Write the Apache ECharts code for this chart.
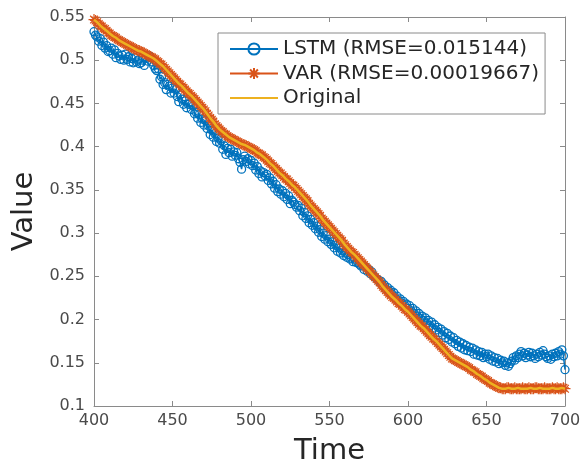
<!DOCTYPE html>
<html>
<head>
<meta charset="utf-8">
<script src="https://cdn.jsdelivr.net/npm/echarts@6/dist/echarts.min.js"></script>
<style>
html,body{margin:0;padding:0;background:#fff;}
#chart{width:586px;height:471px;}
</style>
</head>
<body>
<div id="chart"></div>
<script>
// LSTM and VAR are sampled every time unit from 400 to 700; Original every 2 units
const timeStart = 400;
const denseStep = 1;
const originalStep = 2;

const lstmValues = [
  0.533,0.529,0.527,0.522,0.525,0.517,0.521,0.514,0.517,0.510,
  0.511,0.514,0.507,0.512,0.503,0.508,0.505,0.501,0.506,0.500,
  0.507,0.501,0.504,0.498,0.502,0.497,0.503,0.498,0.500,0.496,
  0.497,0.500,0.494,0.502,0.499,0.505,0.503,0.498,0.494,0.490,
  0.488,0.490,0.478,0.481,0.472,0.474,0.466,0.472,0.470,0.462,
  0.468,0.462,0.466,0.458,0.452,0.460,0.455,0.449,0.453,0.445,
  0.449,0.451,0.443,0.447,0.438,0.440,0.433,0.437,0.428,0.432,
  0.425,0.430,0.421,0.424,0.414,0.419,0.411,0.415,0.406,0.410,
  0.404,0.407,0.397,0.401,0.391,0.398,0.393,0.397,0.389,0.394,
  0.390,0.393,0.386,0.382,0.374,0.385,0.389,0.383,0.386,0.380,
  0.384,0.378,0.381,0.373,0.377,0.369,0.372,0.365,0.370,0.366,
  0.368,0.361,0.364,0.357,0.360,0.352,0.356,0.348,0.351,0.345,
  0.349,0.342,0.346,0.339,0.343,0.334,0.338,0.336,0.333,0.330,
  0.332,0.326,0.329,0.320,0.324,0.317,0.320,0.312,0.316,0.309,
  0.312,0.305,0.308,0.301,0.304,0.296,0.300,0.293,0.297,0.290,
  0.293,0.287,0.290,0.283,0.286,0.279,0.283,0.277,0.280,0.274,
  0.277,0.272,0.275,0.270,0.271,0.267,0.270,0.266,0.266,0.264,
  0.262,0.263,0.258,0.261,0.256,0.258,0.253,0.255,0.250,0.249,
  0.247,0.246,0.243,0.244,0.239,0.240,0.235,0.237,0.233,0.234,
  0.229,0.231,0.225,0.227,0.222,0.224,0.219,0.221,0.216,0.218,
  0.213,0.216,0.210,0.213,0.207,0.210,0.204,0.207,0.201,0.204,
  0.199,0.202,0.196,0.199,0.193,0.197,0.190,0.194,0.188,0.191,
  0.185,0.189,0.182,0.186,0.179,0.184,0.177,0.181,0.174,0.179,
  0.172,0.176,0.169,0.174,0.167,0.172,0.165,0.170,0.164,0.168,
  0.163,0.167,0.160,0.165,0.159,0.163,0.158,0.162,0.156,0.160,
  0.157,0.160,0.154,0.158,0.152,0.156,0.151,0.155,0.149,0.153,
  0.150,0.152,0.147,0.150,0.146,0.149,0.152,0.156,0.153,0.158,
  0.156,0.160,0.163,0.158,0.161,0.156,0.159,0.162,0.157,0.161,
  0.158,0.155,0.160,0.157,0.162,0.159,0.164,0.160,0.157,0.155,
  0.158,0.154,0.160,0.157,0.161,0.158,0.163,0.160,0.165,0.158,
  0.142
];

const varValues = [
  0.547,0.546,0.544,0.542,0.540,0.539,0.537,0.536,0.534,0.532,
  0.531,0.529,0.528,0.527,0.526,0.524,0.523,0.522,0.521,0.520,
  0.519,0.518,0.517,0.516,0.515,0.514,0.513,0.512,0.511,0.511,
  0.510,0.509,0.508,0.507,0.506,0.505,0.504,0.503,0.502,0.501,
  0.499,0.498,0.496,0.495,0.493,0.491,0.489,0.487,0.485,0.483,
  0.481,0.479,0.477,0.475,0.473,0.472,0.470,0.468,0.466,0.464,
  0.462,0.461,0.459,0.457,0.455,0.453,0.451,0.449,0.447,0.445,
  0.443,0.441,0.438,0.436,0.433,0.431,0.429,0.426,0.424,0.422,
  0.420,0.418,0.417,0.415,0.414,0.412,0.411,0.410,0.409,0.408,
  0.407,0.406,0.405,0.404,0.403,0.402,0.402,0.401,0.400,0.399,
  0.398,0.397,0.396,0.395,0.393,0.392,0.391,0.390,0.388,0.387,
  0.385,0.383,0.381,0.380,0.378,0.376,0.374,0.372,0.370,0.369,
  0.367,0.365,0.363,0.362,0.360,0.358,0.356,0.355,0.353,0.351,
  0.349,0.347,0.345,0.343,0.341,0.339,0.337,0.334,0.332,0.330,
  0.328,0.326,0.324,0.322,0.320,0.317,0.315,0.313,0.311,0.309,
  0.307,0.305,0.303,0.301,0.299,0.297,0.295,0.293,0.291,0.288,
  0.286,0.284,0.282,0.280,0.278,0.277,0.275,0.273,0.271,0.269,
  0.267,0.265,0.263,0.261,0.259,0.257,0.255,0.253,0.251,0.249,
  0.247,0.245,0.243,0.240,0.238,0.236,0.234,0.232,0.230,0.228,
  0.226,0.225,0.223,0.221,0.219,0.218,0.216,0.214,0.212,0.211,
  0.209,0.207,0.205,0.203,0.201,0.199,0.197,0.195,0.193,0.192,
  0.190,0.188,0.186,0.184,0.182,0.180,0.178,0.177,0.175,0.173,
  0.171,0.169,0.167,0.165,0.163,0.161,0.159,0.157,0.155,0.154,
  0.153,0.152,0.151,0.150,0.149,0.148,0.147,0.146,0.145,0.144,
  0.142,0.141,0.140,0.139,0.137,0.136,0.135,0.134,0.132,0.131,
  0.130,0.129,0.127,0.126,0.125,0.124,0.123,0.122,0.121,0.121,
  0.120,0.120,0.120,0.121,0.121,0.120,0.120,0.120,0.121,0.120,
  0.120,0.120,0.120,0.121,0.120,0.120,0.120,0.121,0.120,0.120,
  0.120,0.121,0.121,0.120,0.120,0.120,0.120,0.121,0.120,0.120,
  0.120,0.120,0.121,0.120,0.120,0.121,0.120,0.120,0.120,0.121,
  0.120
];

const originalValues = [
  0.547,0.544,0.540,0.537,0.534,0.531,0.528,0.526,0.523,0.521,
  0.519,0.517,0.515,0.513,0.511,0.510,0.508,0.506,0.504,0.502,
  0.499,0.496,0.493,0.489,0.485,0.481,0.477,0.473,0.470,0.466,
  0.462,0.459,0.455,0.451,0.447,0.443,0.438,0.433,0.429,0.424,
  0.420,0.417,0.414,0.411,0.409,0.407,0.405,0.403,0.402,0.400,
  0.398,0.396,0.393,0.391,0.388,0.385,0.381,0.378,0.374,0.370,
  0.367,0.363,0.360,0.356,0.353,0.349,0.345,0.341,0.337,0.332,
  0.328,0.324,0.320,0.315,0.311,0.307,0.303,0.299,0.295,0.291,
  0.286,0.282,0.278,0.275,0.271,0.267,0.263,0.259,0.255,0.251,
  0.247,0.243,0.238,0.234,0.230,0.226,0.223,0.219,0.216,0.212,
  0.209,0.205,0.201,0.197,0.193,0.190,0.186,0.182,0.178,0.175,
  0.171,0.167,0.163,0.159,0.155,0.153,0.151,0.149,0.147,0.145,
  0.142,0.140,0.137,0.135,0.132,0.130,0.127,0.125,0.123,0.121,
  0.120,0.120,0.121,0.120,0.120,0.121,0.120,0.120,0.120,0.121,
  0.120,0.120,0.121,0.120,0.120,0.120,0.121,0.120,0.120,0.121,
  0.120
];

const seriesNames = ['LSTM (RMSE=0.015144)', 'VAR (RMSE=0.00019667)', 'Original'];
const xTicks = { min: 400, max: 700, interval: 50 };
const yTicks = { min: 0.1, max: 0.55, interval: 0.05 };

function pairs(vals, step) {
  return vals.map((v, i) => [timeStart + i * step, v]);
}

const FONT = 'DejaVu Sans';
const AXIS_COLOR = '#8a8a8a';
const LABEL_COLOR = '#4a4a4a';
const BLUE = '#0072BD', ORANGE = '#D95319', YELLOW = '#EDB120';
const asterisk = 'path://M5,0L5,10M0,5L10,5M1.5,1.5L8.5,8.5M1.5,8.5L8.5,1.5';

function axisCommon(extra) {
  return Object.assign({
    type: 'value',
    axisLine: { show: true, lineStyle: { color: AXIS_COLOR, width: 1 } },
    axisTick: { show: true, inside: true, length: 5, lineStyle: { color: AXIS_COLOR, width: 1 } },
    splitLine: { show: false },
  }, extra);
}

const chart = echarts.init(document.getElementById('chart'), null, { renderer: 'canvas' });
chart.setOption({
  animation: false,
  backgroundColor: '#fff',
  grid: { left: 94, right: 21, top: 17, bottom: 63, containLabel: false },
  xAxis: [
    axisCommon(Object.assign({}, xTicks, {
      position: 'bottom',
      name: 'Time', nameLocation: 'middle', nameGap: 31,
      nameTextStyle: { fontFamily: FONT, fontSize: 29, color: '#262626', verticalAlign: 'top' },
      axisLabel: { fontFamily: FONT, fontSize: 16, color: LABEL_COLOR, margin: 7 }
    })),
    axisCommon(Object.assign({}, xTicks, {
      position: 'top', axisLabel: { show: false }
    }))
  ],
  yAxis: [
    axisCommon(Object.assign({}, yTicks, {
      position: 'left',
      name: 'Value', nameLocation: 'middle', nameGap: 52,
      nameTextStyle: { fontFamily: FONT, fontSize: 29, color: '#262626' },
      axisLabel: { fontFamily: FONT, fontSize: 16, color: LABEL_COLOR, margin: 9 }
    })),
    axisCommon(Object.assign({}, yTicks, {
      position: 'right', axisLabel: { show: false }
    }))
  ],
  legend: {
    orient: 'vertical',
    left: 218, top: 33,
    padding: [6, 6, 6, 11],
    itemWidth: 48, itemHeight: 14, itemGap: 4.5,
    backgroundColor: '#fff',
    borderColor: '#8a8a8a', borderWidth: 1,
    textStyle: { fontFamily: FONT, fontSize: 20, color: '#262626', lineHeight: 20 },
    data: [
      { name: seriesNames[0] },
      { name: seriesNames[1] },
      { name: seriesNames[2], itemStyle: { color: 'rgba(0,0,0,0)', borderWidth: 0, borderColor: 'rgba(0,0,0,0)' } }
    ]
  },
  series: [
    {
      name: seriesNames[0], type: 'line', xAxisIndex: 0, yAxisIndex: 0,
      data: pairs(lstmValues, denseStep), z: 2,
      symbol: 'circle', symbolSize: 8, showSymbol: true,
      lineStyle: { color: BLUE, width: 1.5 },
      itemStyle: { color: 'rgba(0,0,0,0)', borderColor: BLUE, borderWidth: 1.3 }
    },
    {
      name: seriesNames[1], type: 'line', xAxisIndex: 0, yAxisIndex: 0,
      data: pairs(varValues, denseStep), z: 3,
      symbol: asterisk, symbolSize: 11, showSymbol: true,
      lineStyle: { color: ORANGE, width: 2 },
      itemStyle: { color: 'rgba(0,0,0,0)', borderColor: ORANGE, borderWidth: 1.2 }
    },
    {
      name: seriesNames[2], type: 'line', xAxisIndex: 0, yAxisIndex: 0,
      data: pairs(originalValues, originalStep), z: 4,
      symbol: 'none', showSymbol: false,
      lineStyle: { color: YELLOW, width: 2.5 },
      itemStyle: { color: YELLOW }
    }
  ]
});
</script>
</body>
</html>
